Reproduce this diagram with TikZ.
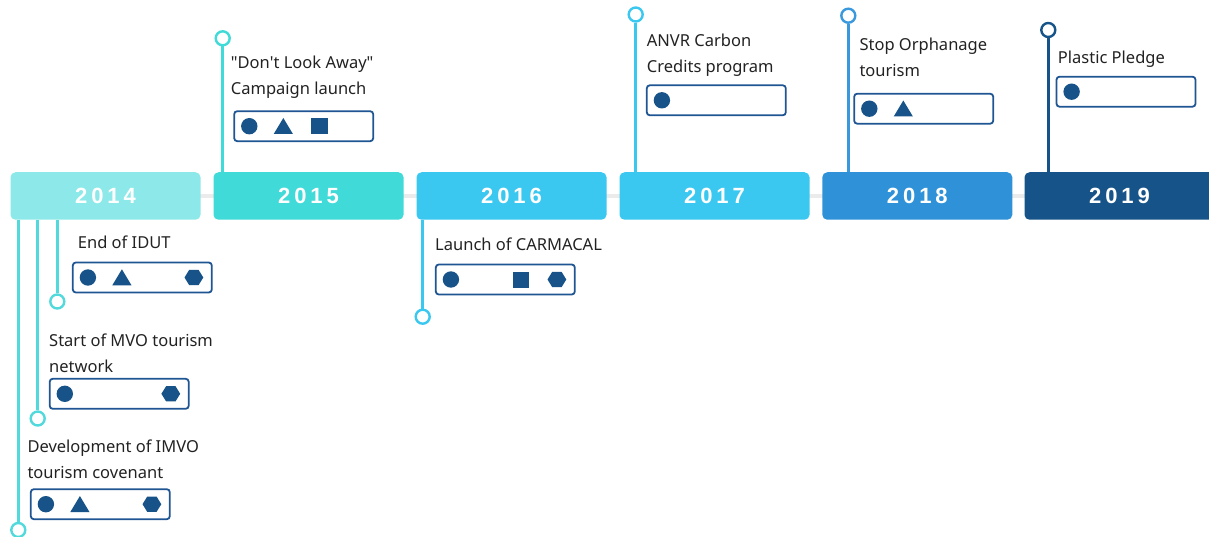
\documentclass[tikz,border=0pt]{standalone}
\usepackage{fontspec}
\setmainfont{Noto Sans}
\newfontfamily\yearfont[LetterSpace=18]{Liberation Sans}
\usetikzlibrary{backgrounds}

\definecolor{c14}{HTML}{8DE9E9}
\definecolor{c14stem}{HTML}{52D9DC}
\definecolor{c15}{HTML}{40DAD8}
\definecolor{c16}{HTML}{3BC8F0}
\definecolor{c17}{HTML}{3BC8F0}
\definecolor{c18}{HTML}{2F92D8}
\definecolor{c18stem}{HTML}{3A98DC}
\definecolor{c19}{HTML}{165389}
\definecolor{ink}{HTML}{222222}
\definecolor{iconblue}{HTML}{175389}
\definecolor{framecol}{HTML}{1F5592}
\definecolor{trackgray}{HTML}{EBEBEB}

\begin{document}
\begin{tikzpicture}[x=1pt,y=-1pt,
  yearbox/.style={rounded corners=5pt, minimum width=190pt, minimum height=47.5pt,
    inner sep=0pt, text=white, font=\yearfont\bfseries\fontsize{22}{26}\selectfont},
  tagbox/.style={draw=framecol, line width=1.8pt, rounded corners=3pt, fill=white,
    minimum width=139pt, minimum height=30pt, inner sep=0pt},
  dot/.style={circle, fill=white, line width=2.4pt, minimum size=14pt, inner sep=0pt},
  stem/.style={line width=2.6pt},
  evtext/.style={anchor=base west, inner sep=0pt, align=left, text=ink,
    font=\fontsize{16.5}{26}\selectfont},
  mcirc/.pic={\fill[iconblue] (0,0) circle (8.2);},
  mtri/.pic={\fill[iconblue] (-9.6,7.8) -- (9.6,7.8) -- (0,-8.2) -- cycle;},
  msq/.pic={\fill[iconblue] (-8.3,-8) rectangle (8.3,8);},
  mhex/.pic={\fill[iconblue] (-9.4,0) -- (-4.7,-7.6) -- (4.7,-7.6) -- (9.4,0)
    -- (4.7,7.6) -- (-4.7,7.6) -- cycle;}
]
\useasboundingbox (0,0) rectangle (1209,537);
\clip (0,0) rectangle (1209,537);

% year bar
\node[yearbox, fill=c14] (y2014) at (105.5,196) {2014};
\node[yearbox, fill=c15] (y2015) at (308.5,196) {2015};
\node[yearbox, fill=c16] (y2016) at (511.5,196) {2016};
\node[yearbox, fill=c17] (y2017) at (714.5,196) {2017};
\node[yearbox, fill=c18] (y2018) at (917.3,196) {2018};
\node[yearbox, fill=c19] (y2019) at (1119.5,196) {2019};
\begin{scope}[on background layer]
  \draw[trackgray, line width=4pt] (y2014.center) -- (y2019.center);
\end{scope}

% 2014 events (below the bar)
\node[dot, draw=c14stem] (d1) at (57.3,301.5) {};
\node[dot, draw=c14stem] (d2) at (37.7,418.5) {};
\node[dot, draw=c14stem] (d3) at (18.3,530) {};
\draw[stem, c14stem] (d1 |- y2014.south) -- (d1);
\draw[stem, c14stem] (d2 |- y2014.south) -- (d2);
\draw[stem, c14stem] (d3 |- y2014.south) -- (d3);

\node[evtext] (l1) at (77.7,248) {End of IDUT};
\node[tagbox] (t1) at (142.3,277.5) {};
\path (t1.west) ++(16,0) pic {mcirc} (t1.west) ++(50,0) pic {mtri}
      (t1.west) ++(122,0) pic {mhex};

\node[evtext] (l2) at (49,372.7) {Start of MVO tourism\\network};
\node[tagbox] (t2) at (119.2,393.8) {};
\path (t2.west) ++(16,0) pic {mcirc} (t2.west) ++(122,0) pic {mhex};

\node[evtext] (l3) at (27.3,478.5) {Development of IMVO\\tourism covenant};
\node[tagbox] (t3) at (100.3,504.2) {};
\path (t3.west) ++(16,0) pic {mcirc} (t3.west) ++(50,0) pic {mtri}
      (t3.west) ++(122,0) pic {mhex};

% 2015
\node[dot, draw=c15] (d4) at (222.7,38.3) {};
\draw[stem, c15] (d4) -- (d4 |- y2015.north);
\node[evtext] (l4) at (230.7,95) {\textquotedbl Don\textquotesingle t Look Away\textquotedbl\\Campaign launch};
\node[tagbox] (t4) at (303.7,126.2) {};
\path (t4.west) ++(16,0) pic {mcirc} (t4.west) ++(50,0) pic {mtri}
      (t4.west) ++(86,0) pic {msq};

% 2016
\node[dot, draw=c16] (d5) at (422.7,316.7) {};
\draw[stem, c16] (d5 |- y2016.south) -- (d5);
\node[evtext] (l5) at (435,251) {Launch of CARMACAL};
\node[tagbox] (t5) at (505.3,279.5) {};
\path (t5.west) ++(16,0) pic {mcirc} (t5.west) ++(86,0) pic {msq}
      (t5.west) ++(122,0) pic {mhex};

% 2017
\node[dot, draw=c17] (d6) at (635.7,14.5) {};
\draw[stem, c17] (d6) -- (d6 |- y2017.north);
\node[evtext] (l6) at (646.7,72.6) {ANVR Carbon\\Credits program};
\node[tagbox] (t6) at (716.3,100.3) {};
\path (t6.west) ++(16,0) pic {mcirc};

% 2018
\node[dot, draw=c18stem] (d7) at (848.3,15.7) {};
\draw[stem, c18stem] (d7) -- (d7 |- y2018.north);
\node[evtext] (l7) at (859.3,76.8) {Stop Orphanage\\tourism};
\node[tagbox] (t7) at (923.7,108.7) {};
\path (t7.west) ++(16,0) pic {mcirc} (t7.west) ++(50,0) pic {mtri};

% 2019
\node[dot, draw=c19] (d8) at (1048.3,30) {};
\draw[stem, c19] (d8) -- (d8 |- y2019.north);
\node[evtext] (l8) at (1057.7,63.3) {Plastic Pledge};
\node[tagbox] (t8) at (1126,91.7) {};
\path (t8.west) ++(16,0) pic {mcirc};
\end{tikzpicture}
\end{document}
